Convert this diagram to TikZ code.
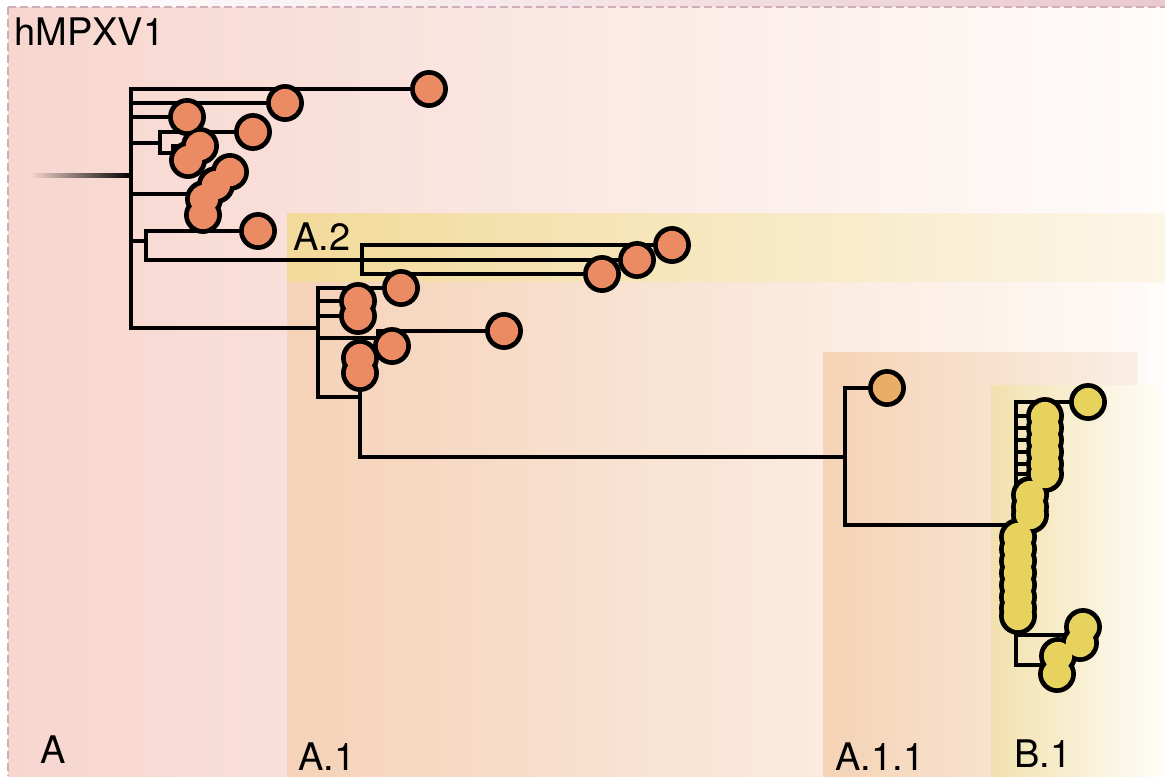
\documentclass[tikz,border=0pt]{standalone}
\usepackage{fontspec}
\setmainfont{TeX Gyre Heros}
\definecolor{pinktop}{HTML}{EAC8D1}
\definecolor{dashc}{HTML}{CFAEB6}
\definecolor{regA}{HTML}{F7D6CE}
\definecolor{regAr}{HTML}{FFFCFB}
\definecolor{aTwoL}{HTML}{F2DA9A}
\definecolor{aTwoR}{HTML}{FCF6E8}
\definecolor{aOneL}{HTML}{F5D2B8}
\definecolor{aOneR}{HTML}{FEFAF7}
\definecolor{aOOL}{HTML}{F5D3B5}
\definecolor{aOOR}{HTML}{FAEEE4}
\definecolor{bOneL}{HTML}{F2E1AE}
\definecolor{bOneR}{HTML}{FFFDF9}
\definecolor{orangec}{HTML}{EB8B64}
\definecolor{aoocirc}{HTML}{EAAD68}
\definecolor{yellowc}{HTML}{E8D25E}
\begin{document}
\begin{tikzpicture}[x=0.75pt,y=-0.75pt,
  edge/.style={line width=3.5pt, line cap=rect, line join=miter},
  lbl/.style={font=\fontsize{28.5}{30}\selectfont, inner sep=0pt, anchor=base west},
  border/.style={dashc, line width=0.8pt, dash pattern=on 6pt off 3pt}]
\useasboundingbox (0,0) rectangle (1165,776);
\fill[white] (0,0) rectangle (1165,776);
% backgrounds
\shade[left color=white, right color=pinktop] (8,0) rectangle (1165,7);
\shade[left color=regA, right color=regAr] (8,7) rectangle (1165,776);
\shade[left color=aTwoL, right color=aTwoR] (287,213) rectangle (1165,282);
\shade[left color=aOneL, right color=aOneR] (287,282) rectangle (1147,776);
\shade[left color=aOOL, right color=aOOR] (823,352) rectangle (1137,776);
\shade[left color=bOneL, right color=bOneR] (991,385) rectangle (1165,776);
\draw[border] (8,7) -- (1165,7);
\draw[border] (8,7) -- (8,776);
% labels
\node[lbl] (tHM) at (14,45) {hMPXV1};
\node[lbl] (tA) at (40,763) {A};
\node[lbl] (tA2) at (293,250) {A.2};
\node[lbl] (tA1) at (298,770) {A.1};
\node[lbl] (tA11) at (835,770) {A.1.1};
\node[lbl] (tB1) at (1014,767) {B.1};
% internal nodes
\coordinate (root) at (131,175);
\coordinate (stem) at (30,175);
\coordinate (n4) at (160,143);
\coordinate (n4b) at (173,153);
\coordinate (n5) at (205,194);
\coordinate (n6) at (146,241);
\coordinate (n7) at (362,260);
\coordinate (n8) at (318,328);
\coordinate (n9) at (378,338);
\coordinate (n10) at (360,397);
\coordinate (n11) at (845,457);
\coordinate (n12) at (1016,525);
\coordinate (n13) at (1078,635);
\coordinate (n14) at (1057,665);
% leaves
\coordinate (L1) at (429,89);
\coordinate (L2) at (285,103);
\coordinate (L3) at (187,117);
\coordinate (L4a) at (253,132);
\coordinate (L4b) at (200,146);
\coordinate (L4c) at (188,160);
\coordinate (C5a) at (230,172);
\coordinate (C5b) at (216,185);
\coordinate (C5c) at (204,199);
\coordinate (C5d) at (203,215);
\coordinate (L6) at (258,231);
\coordinate (L7a) at (672,245);
\coordinate (L7b) at (637,260);
\coordinate (L7c) at (602,274);
\coordinate (L8a) at (401,288);
\coordinate (L8b) at (358,301);
\coordinate (L8c) at (358,316);
\coordinate (L9a) at (504,331);
\coordinate (L9b) at (392,346);
\coordinate (L10a) at (360,358);
\coordinate (L10b) at (360,373);
\coordinate (L11) at (887,388);
\coordinate (B0) at (1088,402);
\coordinate (B1a) at (1045,416);
\coordinate (B1b) at (1045,428);
\coordinate (B1c) at (1045,440);
\coordinate (B1d) at (1045,452);
\coordinate (B1e) at (1045,464);
\coordinate (B1f) at (1045,474);
\coordinate (B2a) at (1030,495);
\coordinate (B2b) at (1030,507);
\coordinate (B2c) at (1030,515);
\coordinate (B3a) at (1018,537);
\coordinate (B3b) at (1018,549);
\coordinate (B3c) at (1018,561);
\coordinate (B3d) at (1018,573);
\coordinate (B3e) at (1018,585);
\coordinate (B3f) at (1018,597);
\coordinate (B3g) at (1018,608);
\coordinate (B3h) at (1018,616);
\coordinate (B4a) at (1083,627);
\coordinate (B4b) at (1080,643);
\coordinate (B5a) at (1058,656);
\coordinate (B5b) at (1057,674);
% root stem (fading)
\shade[left color=regA, right color=black] (30,173) rectangle (131,177);
% edges
\foreach \c in {L1,L2,L3,n4,n5,n6,n8} \draw[edge] (root) |- (\c);
\foreach \c in {L4a,n4b} \draw[edge] (n4) |- (\c);
\foreach \c in {L4b,L4c} \draw[edge] (n4b) |- (\c);
\foreach \c in {C5a,C5b,C5c,C5d} \draw[edge] (n5) -- (\c);
\foreach \c in {L6,n7} \draw[edge] (n6) |- (\c);
\foreach \c in {L7a,L7b,L7c} \draw[edge] (n7) |- (\c);
\foreach \c in {L8a,L8b,L8c,n9,n10} \draw[edge] (n8) |- (\c);
\foreach \c in {L9a,L9b} \draw[edge] (n9) |- (\c);
\foreach \c in {L10a,L10b,n11} \draw[edge] (n10) |- (\c);
\foreach \c in {L11,n12} \draw[edge] (n11) |- (\c);
\foreach \c in {B0,B1a,B1b,B1c,B1d,B1e,B1f,B2a,B2b,B2c,B3a,B3h,n13,n14} \draw[edge] (n12) |- (\c);
\foreach \c in {B4a,B4b} \draw[edge] (n13) |- (\c);
\foreach \c in {B5a,B5b} \draw[edge] (n14) |- (\c);
% circles: outlines first, then fills (merged outlines)
\foreach \c in {L1,L2,L3,L4a,L4b,L4c,C5a,C5b,C5c,C5d,L6,L7a,L7b,L7c,L8a,L8b,L8c,L9a,L9b,L10a,L10b,L11,
  B0,B1a,B1b,B1c,B1d,B1e,B1f,B2a,B2b,B2c,B3a,B3b,B3c,B3d,B3e,B3f,B3g,B3h,B4a,B4b,B5a,B5b}
  \fill[black] (\c) circle[radius=14.2pt];
\foreach \c in {L1,L2,L3,L4a,L4b,L4c,C5a,C5b,C5c,C5d,L6,L7a,L7b,L7c,L8a,L8b,L8c,L9a,L9b,L10a,L10b}
  \fill[orangec] (\c) circle[radius=10.6pt];
\fill[aoocirc] (L11) circle[radius=10.6pt];
\foreach \c in {B0,B1a,B1b,B1c,B1d,B1e,B1f,B2a,B2b,B2c,B3a,B3b,B3c,B3d,B3e,B3f,B3g,B3h,B4a,B4b,B5a,B5b}
  \fill[yellowc] (\c) circle[radius=10.6pt];
\end{tikzpicture}
\end{document}
